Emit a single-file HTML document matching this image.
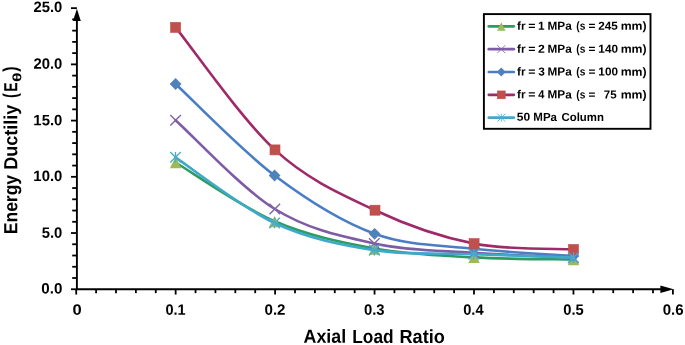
<!DOCTYPE html>
<html lang="en"><head><meta charset="utf-8"><title>Energy Ductiliy (Eθ) vs Axial Load Ratio</title>
<style>
html,body{margin:0;padding:0;background:#fff;}
body{width:685px;height:345px;overflow:hidden;}
svg{display:block;}
text{font-family:"Liberation Sans", Arial, sans-serif;font-weight:bold;fill:#000;font-kerning:none;text-rendering:geometricPrecision;}
</style></head><body>
<svg width="685" height="345" viewBox="0 0 685 345" role="img" aria-label="Energy Ductiliy versus Axial Load Ratio">
<rect x="0" y="0" width="685" height="345" fill="#ffffff"/>
<g stroke="#000" stroke-width="1.9" fill="none">
<path d="M76.90 290.05 V20.00"/>
<path d="M76.10 289.25 H661.00"/>
</g>
<g stroke="#000" stroke-width="1.8" fill="none">
<path d="M71.00 289.25 H76.90"/>
<path d="M72.20 278.01 H76.90"/>
<path d="M72.20 266.76 H76.90"/>
<path d="M72.20 255.52 H76.90"/>
<path d="M72.20 244.27 H76.90"/>
<path d="M71.00 233.03 H76.90"/>
<path d="M72.20 221.79 H76.90"/>
<path d="M72.20 210.54 H76.90"/>
<path d="M72.20 199.30 H76.90"/>
<path d="M72.20 188.05 H76.90"/>
<path d="M71.00 176.81 H76.90"/>
<path d="M72.20 165.57 H76.90"/>
<path d="M72.20 154.32 H76.90"/>
<path d="M72.20 143.08 H76.90"/>
<path d="M72.20 131.83 H76.90"/>
<path d="M71.00 120.59 H76.90"/>
<path d="M72.20 109.35 H76.90"/>
<path d="M72.20 98.10 H76.90"/>
<path d="M72.20 86.86 H76.90"/>
<path d="M72.20 75.61 H76.90"/>
<path d="M71.00 64.37 H76.90"/>
<path d="M72.20 53.13 H76.90"/>
<path d="M72.20 41.88 H76.90"/>
<path d="M72.20 30.64 H76.90"/>
<path d="M72.20 19.39 H76.90"/>
<path d="M71.00 8.15 H76.90"/>
<path d="M76.20 289.25 V294.55"/>
<path d="M96.09 289.25 V293.15"/>
<path d="M115.98 289.25 V293.15"/>
<path d="M135.87 289.25 V293.15"/>
<path d="M155.76 289.25 V293.15"/>
<path d="M175.65 289.25 V294.55"/>
<path d="M195.54 289.25 V293.15"/>
<path d="M215.43 289.25 V293.15"/>
<path d="M235.32 289.25 V293.15"/>
<path d="M255.21 289.25 V293.15"/>
<path d="M275.10 289.25 V294.55"/>
<path d="M294.99 289.25 V293.15"/>
<path d="M314.88 289.25 V293.15"/>
<path d="M334.77 289.25 V293.15"/>
<path d="M354.66 289.25 V293.15"/>
<path d="M374.55 289.25 V294.55"/>
<path d="M394.44 289.25 V293.15"/>
<path d="M414.33 289.25 V293.15"/>
<path d="M434.22 289.25 V293.15"/>
<path d="M454.11 289.25 V293.15"/>
<path d="M474.00 289.25 V294.55"/>
<path d="M493.89 289.25 V293.15"/>
<path d="M513.78 289.25 V293.15"/>
<path d="M533.67 289.25 V293.15"/>
<path d="M553.56 289.25 V293.15"/>
<path d="M573.45 289.25 V294.55"/>
<path d="M593.34 289.25 V293.15"/>
<path d="M613.23 289.25 V293.15"/>
<path d="M633.12 289.25 V293.15"/>
<path d="M653.01 289.25 V293.15"/>
<path d="M672.90 289.25 V294.55"/>
</g>
<path d="M76.90 8.80 L80.80 21.10 L73.00 21.10 Z" fill="#000"/>
<path d="M673.60 289.25 L660.40 285.55 L660.40 292.95 Z" fill="#000"/>
<path d="M175.60 162.50 C192.10 172.30 241.45 206.97 274.60 221.30 C307.75 235.63 341.27 242.48 374.50 248.50 C407.73 254.52 440.83 255.57 474.00 257.40 C507.17 259.23 556.92 259.15 573.50 259.50" fill="none" stroke="#2E9B62" stroke-width="2.6" stroke-linecap="round" stroke-linejoin="round"/>
<path d="M175.60 156.80 L181.30 168.20 L169.90 168.20 Z" fill="#9BBB59"/>
<path d="M274.60 215.90 L280.30 227.30 L268.90 227.30 Z" fill="#9BBB59"/>
<path d="M374.50 243.30 L380.20 254.70 L368.80 254.70 Z" fill="#9BBB59"/>
<path d="M474.00 251.70 L479.70 263.10 L468.30 263.10 Z" fill="#9BBB59"/>
<path d="M573.50 253.80 L579.20 265.20 L567.80 265.20 Z" fill="#9BBB59"/>
<path d="M175.60 120.20 C192.13 135.00 241.68 188.45 274.80 209.00 C307.92 229.55 341.10 236.20 374.30 243.50 C407.50 250.80 440.82 250.45 474.00 252.80 C507.18 255.15 556.83 256.80 573.40 257.60" fill="none" stroke="#7D5BA6" stroke-width="2.6" stroke-linecap="round" stroke-linejoin="round"/>
<path d="M170.30 114.90 L180.90 125.50 M170.30 125.50 L180.90 114.90" stroke="#8064A2" stroke-width="1.35" fill="none"/>
<path d="M269.50 203.70 L280.10 214.30 M269.50 214.30 L280.10 203.70" stroke="#8064A2" stroke-width="1.35" fill="none"/>
<path d="M369.00 238.20 L379.60 248.80 M369.00 248.80 L379.60 238.20" stroke="#8064A2" stroke-width="1.35" fill="none"/>
<path d="M468.70 247.50 L479.30 258.10 M468.70 258.10 L479.30 247.50" stroke="#8064A2" stroke-width="1.35" fill="none"/>
<path d="M568.10 252.30 L578.70 262.90 M568.10 262.90 L578.70 252.30" stroke="#8064A2" stroke-width="1.35" fill="none"/>
<path d="M175.60 84.00 C192.10 99.25 241.43 150.53 274.60 175.50 C307.77 200.47 341.37 221.60 374.60 233.80 C407.83 246.00 440.87 245.00 474.00 248.70 C507.13 252.40 556.83 254.78 573.40 256.00" fill="none" stroke="#4A7EC4" stroke-width="2.6" stroke-linecap="round" stroke-linejoin="round"/>
<path d="M175.60 78.10 L181.50 84.00 L175.60 89.90 L169.70 84.00 Z" fill="#4F81BD"/>
<path d="M274.60 169.60 L280.50 175.50 L274.60 181.40 L268.70 175.50 Z" fill="#4F81BD"/>
<path d="M374.60 227.90 L380.50 233.80 L374.60 239.70 L368.70 233.80 Z" fill="#4F81BD"/>
<path d="M474.00 242.80 L479.90 248.70 L474.00 254.60 L468.10 248.70 Z" fill="#4F81BD"/>
<path d="M573.40 250.10 L579.30 256.00 L573.40 261.90 L567.50 256.00 Z" fill="#4F81BD"/>
<path d="M175.60 27.40 C192.17 47.82 241.77 119.43 275.00 149.90 C308.23 180.37 341.82 194.58 375.00 210.20 C408.18 225.82 441.02 237.05 474.10 243.60 C507.18 250.15 556.93 248.52 573.50 249.50" fill="none" stroke="#9E2A68" stroke-width="2.6" stroke-linecap="round" stroke-linejoin="round"/>
<rect x="170.60" y="22.40" width="10.00" height="10.00" fill="#C0504D" stroke="#BE4B48" stroke-width="0.6"/>
<rect x="270.00" y="144.90" width="10.00" height="10.00" fill="#C0504D" stroke="#BE4B48" stroke-width="0.6"/>
<rect x="370.00" y="205.20" width="10.00" height="10.00" fill="#C0504D" stroke="#BE4B48" stroke-width="0.6"/>
<rect x="469.10" y="238.60" width="10.00" height="10.00" fill="#C0504D" stroke="#BE4B48" stroke-width="0.6"/>
<rect x="568.50" y="244.50" width="10.00" height="10.00" fill="#C0504D" stroke="#BE4B48" stroke-width="0.6"/>
<path d="M175.50 157.30 C192.02 168.25 241.45 207.53 274.60 223.00 C307.75 238.47 341.20 244.90 374.40 250.10 C407.60 255.30 440.63 252.95 473.80 254.20 C506.97 255.45 556.80 257.03 573.40 257.60" fill="none" stroke="#3FA9C9" stroke-width="2.6" stroke-linecap="round" stroke-linejoin="round"/>
<path d="M170.20 152.00 L180.80 162.60 M170.20 162.60 L180.80 152.00 M175.50 152.00 L175.50 162.60" stroke="#4BACC6" stroke-width="1.35" fill="none"/>
<path d="M269.30 217.70 L279.90 228.30 M269.30 228.30 L279.90 217.70 M274.60 217.70 L274.60 228.30" stroke="#4BACC6" stroke-width="1.35" fill="none"/>
<path d="M369.10 244.80 L379.70 255.40 M369.10 255.40 L379.70 244.80 M374.40 244.80 L374.40 255.40" stroke="#4BACC6" stroke-width="1.35" fill="none"/>
<path d="M468.50 248.90 L479.10 259.50 M468.50 259.50 L479.10 248.90 M473.80 248.90 L473.80 259.50" stroke="#4BACC6" stroke-width="1.35" fill="none"/>
<path d="M568.10 252.30 L578.70 262.90 M568.10 262.90 L578.70 252.30 M573.40 252.30 L573.40 262.90" stroke="#4BACC6" stroke-width="1.35" fill="none"/>
<g class="ylabels">
<text transform="rotate(0.04 47.90 11.95)" font-size="15.00"><tspan x="33.49" y="11.95" textLength="28.82" lengthAdjust="spacingAndGlyphs">25.0</tspan></text>
<text transform="rotate(0.04 47.90 68.65)" font-size="15.00"><tspan x="33.49" y="68.65" textLength="28.82" lengthAdjust="spacingAndGlyphs">20.0</tspan></text>
<text transform="rotate(0.04 47.84 125.30)" font-size="15.00"><tspan x="33.36" y="125.30" textLength="28.95" lengthAdjust="spacingAndGlyphs">15.0</tspan></text>
<text transform="rotate(0.04 47.84 180.95)" font-size="15.00"><tspan x="33.36" y="180.95" textLength="28.95" lengthAdjust="spacingAndGlyphs">10.0</tspan></text>
<text transform="rotate(0.04 52.03 237.75)" font-size="15.00"><tspan x="41.75" y="237.75" textLength="20.56" lengthAdjust="spacingAndGlyphs">5.0</tspan></text>
<text transform="rotate(0.04 51.81 293.55)" font-size="15.00"><tspan x="41.30" y="293.55" textLength="21.02" lengthAdjust="spacingAndGlyphs">0.0</tspan></text>
</g>
<g class="xlabels">
<text transform="rotate(0.04 76.99 314.70)" font-size="15.00"><tspan x="72.40" y="314.70" textLength="9.18" lengthAdjust="spacingAndGlyphs">0</tspan></text>
<text transform="rotate(0.04 175.51 314.70)" font-size="15.00"><tspan x="165.43" y="314.70" textLength="20.18" lengthAdjust="spacingAndGlyphs">0.1</tspan></text>
<text transform="rotate(0.04 275.00 314.70)" font-size="15.00"><tspan x="264.50" y="314.70" textLength="21.00" lengthAdjust="spacingAndGlyphs">0.2</tspan></text>
<text transform="rotate(0.04 374.22 314.70)" font-size="15.00"><tspan x="363.91" y="314.70" textLength="20.62" lengthAdjust="spacingAndGlyphs">0.3</tspan></text>
<text transform="rotate(0.04 473.40 314.70)" font-size="15.00"><tspan x="463.22" y="314.70" textLength="20.36" lengthAdjust="spacingAndGlyphs">0.4</tspan></text>
<text transform="rotate(0.04 573.46 314.70)" font-size="15.00"><tspan x="563.22" y="314.70" textLength="20.49" lengthAdjust="spacingAndGlyphs">0.5</tspan></text>
<text transform="rotate(0.04 673.15 314.70)" font-size="15.00"><tspan x="662.71" y="314.70" textLength="20.89" lengthAdjust="spacingAndGlyphs">0.6</tspan></text>
</g>
<text transform="rotate(0.04 374.23 342.90)" font-size="19.00"><tspan x="303.60" y="342.90" textLength="42.56" lengthAdjust="spacingAndGlyphs">Axial</tspan> <tspan x="352.30" y="342.90" textLength="41.31" lengthAdjust="spacingAndGlyphs">Load</tspan> <tspan x="399.54" y="342.90" textLength="45.32" lengthAdjust="spacingAndGlyphs">Ratio</tspan></text>
<g transform="rotate(-90)">
<text transform="rotate(0.04 -150.26 17.20)" font-size="19.00"><tspan x="-234.23" y="17.20" textLength="59.32" lengthAdjust="spacingAndGlyphs">Energy</tspan> <tspan x="-169.81" y="17.20" textLength="65.20" lengthAdjust="spacingAndGlyphs">Ductiliy</tspan> <tspan x="-98.11" y="16.75" font-size="19.70" textLength="4.78" lengthAdjust="spacingAndGlyphs">(</tspan><tspan x="-91.73" y="17.20" textLength="9.27" lengthAdjust="spacingAndGlyphs">E</tspan><tspan x="-82.08" y="21.10" font-size="12.30" textLength="9.61" lengthAdjust="spacingAndGlyphs">θ</tspan><tspan x="-71.72" y="16.75" font-size="19.70" textLength="5.43" lengthAdjust="spacingAndGlyphs">)</tspan></text>
</g>
<rect x="483.9" y="14.1" width="166.6" height="114.7" fill="#fff" stroke="#000" stroke-width="1.9"/>
<path d="M488.80 26.30 H513.80" stroke="#2E9B62" stroke-width="2.7" stroke-linecap="round" fill="none"/>
<path d="M501.30 22.30 L505.50 30.70 L497.10 30.70 Z" fill="#9BBB59"/>
<text transform="rotate(0.04 581.81 29.70)" font-size="11.60"><tspan x="517.00" y="29.70" textLength="8.48" lengthAdjust="spacingAndGlyphs">fr</tspan> <tspan x="528.29" y="29.70" textLength="7.22" lengthAdjust="spacingAndGlyphs">=</tspan> <tspan x="538.06" y="29.70" textLength="6.57" lengthAdjust="spacingAndGlyphs">1</tspan> <tspan x="547.51" y="29.70" textLength="24.21" lengthAdjust="spacingAndGlyphs">MPa</tspan> <tspan x="576.29" y="29.70" textLength="9.02" lengthAdjust="spacingAndGlyphs">(s</tspan> <tspan x="588.46" y="29.70" textLength="6.93" lengthAdjust="spacingAndGlyphs">=</tspan> <tspan x="598.29" y="29.70" textLength="19.53" lengthAdjust="spacingAndGlyphs">245</tspan> <tspan x="620.69" y="29.70" textLength="25.92" lengthAdjust="spacingAndGlyphs">mm)</tspan></text>
<path d="M488.80 49.15 H513.80" stroke="#7D5BA6" stroke-width="2.7" stroke-linecap="round" fill="none"/>
<path d="M497.30 45.15 L505.30 53.15 M497.30 53.15 L505.30 45.15" stroke="#8064A2" stroke-width="0.85" fill="none"/>
<text transform="rotate(0.04 581.81 52.80)" font-size="11.60"><tspan x="517.00" y="52.80" textLength="8.48" lengthAdjust="spacingAndGlyphs">fr</tspan> <tspan x="528.29" y="52.80" textLength="7.22" lengthAdjust="spacingAndGlyphs">=</tspan> <tspan x="538.08" y="52.80" textLength="6.82" lengthAdjust="spacingAndGlyphs">2</tspan> <tspan x="547.51" y="52.80" textLength="24.21" lengthAdjust="spacingAndGlyphs">MPa</tspan> <tspan x="576.29" y="52.80" textLength="9.02" lengthAdjust="spacingAndGlyphs">(s</tspan> <tspan x="588.46" y="52.80" textLength="6.93" lengthAdjust="spacingAndGlyphs">=</tspan> <tspan x="598.36" y="52.80" textLength="19.62" lengthAdjust="spacingAndGlyphs">140</tspan> <tspan x="620.69" y="52.80" textLength="25.92" lengthAdjust="spacingAndGlyphs">mm)</tspan></text>
<path d="M488.80 72.00 H513.80" stroke="#4A7EC4" stroke-width="2.7" stroke-linecap="round" fill="none"/>
<path d="M501.30 67.60 L505.70 72.00 L501.30 76.40 L496.90 72.00 Z" fill="#4F81BD"/>
<text transform="rotate(0.04 581.81 75.60)" font-size="11.60"><tspan x="517.00" y="75.60" textLength="8.48" lengthAdjust="spacingAndGlyphs">fr</tspan> <tspan x="528.29" y="75.60" textLength="7.22" lengthAdjust="spacingAndGlyphs">=</tspan> <tspan x="538.23" y="75.60" textLength="6.60" lengthAdjust="spacingAndGlyphs">3</tspan> <tspan x="547.51" y="75.60" textLength="24.21" lengthAdjust="spacingAndGlyphs">MPa</tspan> <tspan x="576.29" y="75.60" textLength="9.02" lengthAdjust="spacingAndGlyphs">(s</tspan> <tspan x="588.46" y="75.60" textLength="6.93" lengthAdjust="spacingAndGlyphs">=</tspan> <tspan x="598.36" y="75.60" textLength="19.62" lengthAdjust="spacingAndGlyphs">100</tspan> <tspan x="620.69" y="75.60" textLength="25.92" lengthAdjust="spacingAndGlyphs">mm)</tspan></text>
<path d="M488.80 94.85 H513.80" stroke="#9E2A68" stroke-width="2.7" stroke-linecap="round" fill="none"/>
<rect x="497.40" y="90.95" width="7.80" height="7.80" fill="#C0504D" stroke="#BE4B48" stroke-width="0.6"/>
<text transform="rotate(0.04 581.81 98.40)" font-size="11.60"><tspan x="517.00" y="98.40" textLength="8.48" lengthAdjust="spacingAndGlyphs">fr</tspan> <tspan x="528.29" y="98.40" textLength="7.22" lengthAdjust="spacingAndGlyphs">=</tspan> <tspan x="538.33" y="98.40" textLength="6.13" lengthAdjust="spacingAndGlyphs">4</tspan> <tspan x="547.51" y="98.40" textLength="24.21" lengthAdjust="spacingAndGlyphs">MPa</tspan> <tspan x="576.29" y="98.40" textLength="9.02" lengthAdjust="spacingAndGlyphs">(s</tspan> <tspan x="588.46" y="98.40" textLength="6.93" lengthAdjust="spacingAndGlyphs">=</tspan>   <tspan x="603.80" y="98.40" textLength="12.82" lengthAdjust="spacingAndGlyphs">75</tspan> <tspan x="620.69" y="98.40" textLength="25.92" lengthAdjust="spacingAndGlyphs">mm)</tspan></text>
<path d="M488.80 117.70 H513.80" stroke="#3FA9C9" stroke-width="2.7" stroke-linecap="round" fill="none"/>
<path d="M497.30 113.70 L505.30 121.70 M497.30 121.70 L505.30 113.70 M501.30 113.70 L501.30 121.70" stroke="#4BACC6" stroke-width="0.85" fill="none"/>
<text transform="rotate(0.04 560.35 120.90)" font-size="11.60"><tspan x="516.79" y="120.90" textLength="13.41" lengthAdjust="spacingAndGlyphs">50</tspan> <tspan x="533.33" y="120.90" textLength="23.70" lengthAdjust="spacingAndGlyphs">MPa</tspan> <tspan x="561.43" y="120.90" textLength="42.48" lengthAdjust="spacingAndGlyphs">Column</tspan></text>
</svg>
</body></html>
